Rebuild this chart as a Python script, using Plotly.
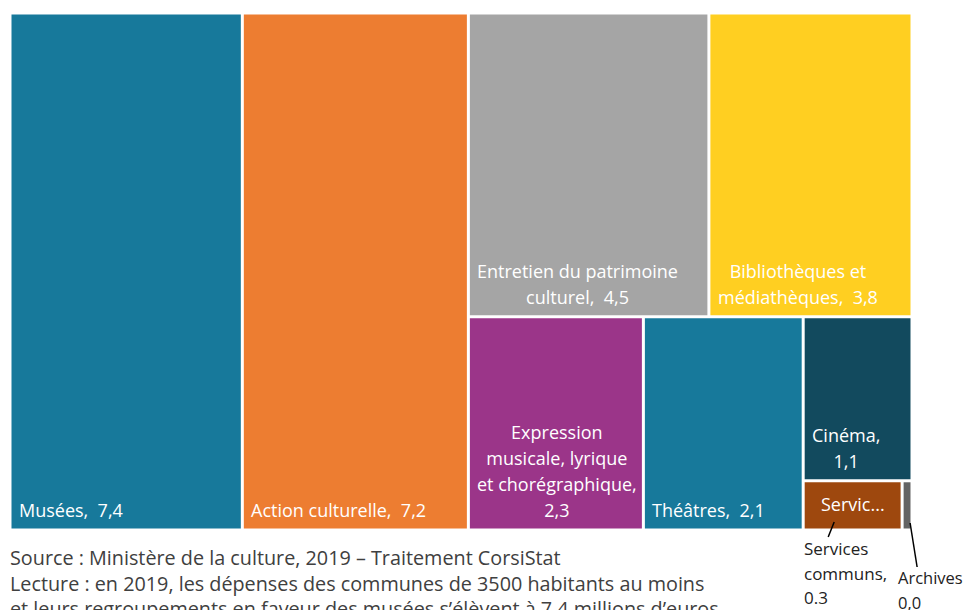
import plotly.graph_objects as go

# ---------------- data ----------------
categories = ["Musées", "Action culturelle", "Entretien du patrimoine culturel",
              "Bibliothèques et médiathèques",
              "Expression musicale, lyrique et chorégraphique", "Théâtres",
              "Cinéma", "Services communs", "Archives"]
values = [7.4, 7.2, 4.5, 3.8, 2.3, 2.1, 1.1, 0.3, 0.03]
value_labels = ["7,4", "7,2", "4,5", "3,8", "2,3", "2,1", "1,1", "0.3", "0,0"]
tile_labels = ["Musées,  7,4", "Action culturelle,  7,2",
               "Entretien du patrimoine<br>culturel,  4,5",
               "Bibliothèques et<br>médiathèques,  3,8",
               "Expression<br>musicale, lyrique<br>et chorégraphique,<br>2,3",
               "Théâtres,  2,1", "Cinéma,<br>1,1", "Servic...", ""]
colors = ["#17799B", "#ED7D31", "#A5A5A5", "#FFCF21", "#9B3589",
          "#17799B", "#124A5E", "#9E480E", "#646464"]
source_lines = [
    "Source : Ministère de la culture, 2019 – Traitement CorsiStat",
    "Lecture : en 2019, les dépenses des communes de 3500 habitants au moins",
    "et leurs regroupements en faveur des musées s’élèvent à 7,4 millions d’euros",
]

# ---------------- layout of the treemap (Excel-like tiling) ----------------
FW, FH = 966, 602
X0, Y0, W, H = 2, 5, 902, 517
GAP = 3
TREE = ("h", [0, 1, ("v", [("h", [2, 3]),
                           ("h", [4, 5, ("v", [6, ("h", [7, 8])])])])])


def node_value(n):
    if isinstance(n, int):
        return values[n]
    return sum(node_value(c) for c in n[1])


rects = {}


def lay(n, x0, y0, x1, y1):
    if isinstance(n, int):
        rects[n] = (x0, y0, x1, y1)
        return
    d, kids = n
    tot = node_value(n)
    pos = x0 if d == "h" else y0
    for c in kids:
        f = node_value(c) / tot
        if d == "h":
            nx = pos + f * (x1 - x0)
            lay(c, pos, y0, nx, y1)
            pos = nx
        else:
            ny = pos + f * (y1 - y0)
            lay(c, x0, pos, x1, ny)
            pos = ny


lay(TREE, X0, Y0, X0 + W, Y0 + H)

fig = go.Figure()
g = GAP / 2
for i, cat in enumerate(categories):
    x0, y0, x1, y1 = rects[i]
    x0, y0, x1, y1 = x0 + g, y0 + g, x1 - g, y1 - g
    fig.add_trace(go.Scatter(
        x=[x0, x1, x1, x0, x0], y=[y0, y0, y1, y1, y0],
        mode="lines", fill="toself", fillcolor=colors[i],
        line=dict(width=0, color=colors[i]),
        name=cat, hoverinfo="text", text=f"{cat}, {value_labels[i]}",
        showlegend=False))

FONT = "Open Sans"
LBL = 18
annotations = []
for i, lab in enumerate(tile_labels):
    if not lab:
        continue
    x0, y0, x1, y1 = rects[i]
    if i == 7:
        annotations.append(dict(
            x=(x0 + x1) / 2, y=(y0 + y1) / 2 - 1, xref="x", yref="y",
            text=lab, showarrow=False, xanchor="center", yanchor="middle",
            font=dict(family=FONT, size=LBL, color="white")))
        continue
    annotations.append(dict(
        x=x0 + 7, y=y1 - 6, xref="x", yref="y",
        text=f'<span style="font-size:{LBL}px">{lab}</span>',
        showarrow=False, xanchor="left", yanchor="bottom", align="center",
        font=dict(family=FONT, size=20, color="white")))

# callouts for small tiles
sx0, sy0, sx1, sy1 = rects[7]
ax0, ay0, ax1, ay1 = rects[8]
callouts = [
    (sx0 - 1, sy1 + 5, f"Services<br>communs,<br>{value_labels[7]}", 17,
     (sx0 + 31, sy1 - 8), (sx0 + 25, sy1 + 7)),
    (ax0 - 6, sy1 + 34, f"Archives<br>{value_labels[8]}", 16.5,
     (ax0 + 8, ay1 - 7), (ax0 + 15, ay1 + 37)),
]
for tx, ty, txt, fs, p1, p2 in callouts:
    annotations.append(dict(
        x=tx, y=ty, xref="x", yref="y",
        text=f'<span style="font-size:{fs}px">{txt}</span>',
        showarrow=False, xanchor="left", yanchor="top", align="left",
        font=dict(family=FONT, size=19, color="#222222")))
    fig.add_trace(go.Scatter(x=[p1[0], p2[0]], y=[p1[1], p2[1]], mode="lines",
                             line=dict(color="black", width=1.5),
                             hoverinfo="skip", showlegend=False))

annotations.append(dict(
    x=0, y=534, xref="x", yref="y",
    text="<br>".join(source_lines),
    showarrow=False, xanchor="left", yanchor="top", align="left",
    font=dict(family=FONT, size=19.8, color="#404040")))

fig.update_layout(
    width=FW, height=FH,
    margin=dict(l=0, r=0, t=0, b=0),
    paper_bgcolor="white", plot_bgcolor="white",
    xaxis=dict(range=[0, FW], visible=False, fixedrange=True),
    yaxis=dict(range=[FH, 0], visible=False, fixedrange=True),
    annotations=annotations,
)

fig.write_html("out.html")
